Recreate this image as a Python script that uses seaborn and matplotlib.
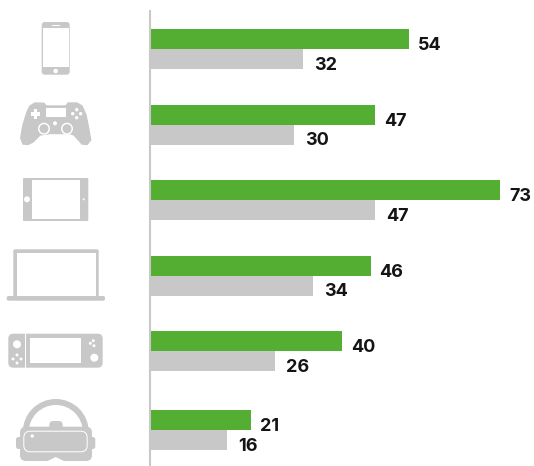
import matplotlib.pyplot as plt
import pandas as pd
import seaborn as sns
from matplotlib.patches import Circle, FancyBboxPatch, Polygon, Rectangle, Wedge

devices = ['Phone', 'Gamepad', 'Tablet', 'Laptop', 'Handheld', 'VR headset']
green_values = [54, 47, 73, 46, 40, 21]
gray_values = [32, 30, 47, 34, 26, 16]

GREEN = '#53ae32'
GRAY = '#c8c8c8'

df = pd.DataFrame({
    'device': devices * 2,
    'value': green_values + gray_values,
    'series': ['green'] * 6 + ['gray'] * 6,
})

sns.set_style('white')
plt.rcParams['font.family'] = ['Inter', 'DejaVu Sans']

fig = plt.figure(figsize=(5.34, 4.66), dpi=100)
ax = fig.add_axes([150 / 534, 0, 384 / 534, 455 / 466])
sns.barplot(data=df, y='device', x='value', hue='series', order=devices,
            palette={'green': GREEN, 'gray': GRAY}, width=0.53, gap=0,
            saturation=1, legend=False, linewidth=0, ax=ax)

# about 4.8 px per unit, groups 75.6 px apart
ax.set_xlim(0, 384 / 4.795)
ax.set_ylim(5.516, -0.503)
ax.set_xlabel('')
ax.set_ylabel('')
ax.set_xticks([])
ax.set_yticks([])
sns.despine(ax=ax, left=False, bottom=True)
ax.spines['left'].set_color(GRAY)
ax.spines['left'].set_linewidth(1.5)

# last group sits a little lower than the regular spacing
for c in ax.containers:
    p = c.patches[-1]
    p.set_y(p.get_y() + 0.04)

pads = {0: (9, 6.5), 1: (11, 6)}
for i, c in enumerate(ax.containers):
    for p in c.patches:
        ax.annotate(f'{p.get_width():.0f}',
                    (p.get_width(), p.get_y() + p.get_height() / 2),
                    xytext=(pads[i][0] * 0.72, -pads[i][1] * 0.72),
                    textcoords='offset points', ha='left', va='center',
                    fontsize=13, fontweight='bold', color='#141414', annotation_clip=False)

# icons, drawn on an overlay in pixel coordinates
ov = fig.add_axes([0, 0, 1, 1])
ov.set_xlim(0, 534)
ov.set_ylim(466, 0)
ov.axis('off')
ov.patch.set_alpha(0)


def rbox(x0, y0, x1, y1, r, color=GRAY, **kw):
    ov.add_patch(FancyBboxPatch((x0 + r, y0 + r), x1 - x0 - 2 * r, y1 - y0 - 2 * r,
                                boxstyle=f'round,pad={r},rounding_size={r}',
                                fc=color, ec='none', **kw))


def box(x0, y0, x1, y1, color='white'):
    ov.add_patch(Rectangle((x0, y0), x1 - x0, y1 - y0, fc=color, ec='none'))


def dot(x, y, r, color='white'):
    ov.add_patch(Circle((x, y), r, fc=color, ec='none'))


# phone
rbox(41.7, 22, 69.7, 74.7, 3)
box(43, 28.3, 68.7, 67.3)
box(51.7, 25, 60.3, 25.9)
dot(55.7, 71, 2.3)

# gamepad
pad = [(35, 103), (44, 103.3), (46, 106), (66, 106), (68, 103), (77, 103), (82, 106), (86, 115),
       (89, 130), (90.7, 140), (87, 144.5), (82, 144), (74, 135), (70, 133.5), (50, 133.5),
       (40, 135), (33, 142), (28, 144.5), (23, 144), (20.7, 138), (23, 125), (27, 112), (30, 106)]
ov.add_patch(Polygon(pad, closed=True, fc=GRAY, ec=GRAY, lw=1, joinstyle='round'))
box(45.7, 107.7, 65.7, 116.7)
box(30.7, 112.2, 39.7, 115.7)
box(33.5, 109.3, 37, 118.6)
for x, y in [(76.7, 109.7), (72.7, 113.7), (80.7, 113.7), (76.7, 117.7)]:
    dot(x, y, 1.7)
dot(55, 123.3, 2)
for x in (44, 67):
    dot(x, 128.7, 6)
    dot(x, 128.7, 4.5, GRAY)

# tablet
rbox(23, 178, 88.3, 221, 0.8)
box(31.7, 180, 79.7, 219)
dot(27, 199.3, 3)
dot(83.7, 199.3, 1)

# laptop
rbox(13.3, 249.3, 98.7, 298, 1.5)
box(16.7, 252.7, 96, 296)
rbox(6.7, 296, 105, 300.7, 1.8)

# handheld console
rbox(8.3, 333.7, 102.7, 367.7, 5)
box(30, 338, 81, 363)
box(25.3, 334, 25.9, 367.5)
box(84.8, 334, 85.4, 367.5)
dot(17, 344.3, 4)
dot(94.3, 357.7, 4)
for x, y in [(17, 355), (13, 359), (21, 359), (17, 363), (93.3, 340.7), (90.3, 343.3), (94, 345.7)]:
    dot(x, y, 1.5)

# vr headset
ov.add_patch(Wedge((55.8, 432), 33, 180, 360, width=6, fc=GRAY, ec='none'))
rbox(16, 437, 95.3, 449, 2.5)
rbox(20, 426.7, 92, 461, 6)
rbox(49.3, 421, 62.7, 432, 4)
rbox(23.3, 430.7, 87.7, 452.3, 7, color='white')
rbox(24.3, 431.7, 86.7, 451.3, 6)
dot(32.3, 436, 1.7)
ov.add_patch(Polygon([(46.5, 461.5), (55.7, 457), (65, 461.5)], closed=True, fc='white', ec='none'))

fig.savefig('out.png', dpi=100)
